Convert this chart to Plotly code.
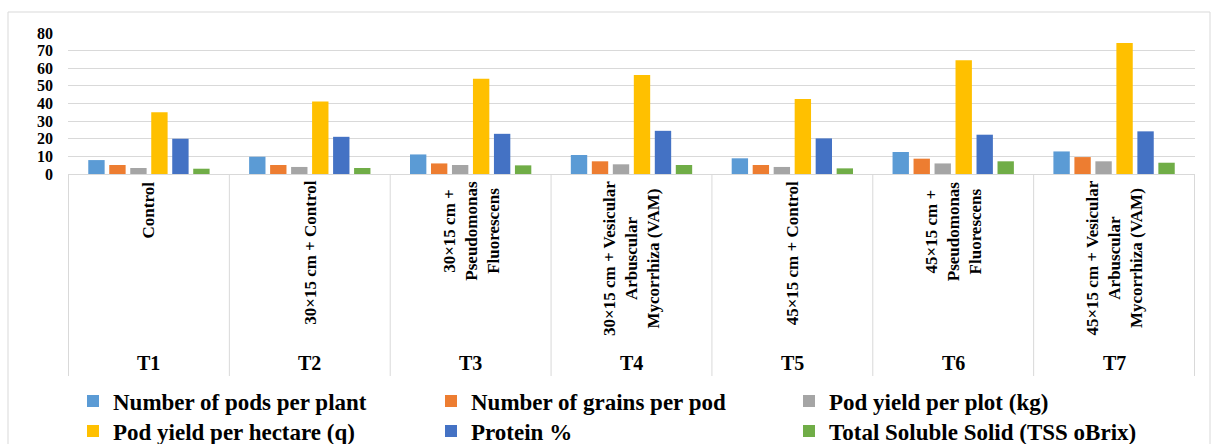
import plotly.graph_objects as go

# ---------------- data ----------------
categories = ["T1", "T2", "T3", "T4", "T5", "T6", "T7"]
treatments = [
    "Control",
    "30×15 cm + Control",
    "30×15 cm +<br>Pseudomonas<br>Fluorescens",
    "30×15 cm + Vesicular<br>Arbuscular<br>Mycorrhiza (VAM)",
    "45×15 cm + Control",
    "45×15 cm +<br>Pseudomonas<br>Fluorescens",
    "45×15 cm + Vesicular<br>Arbuscular<br>Mycorrhiza (VAM)",
]
series_names = [
    "Number of pods per plant",
    "Number of grains per pod",
    "Pod yield per plot (kg)",
    "Pod yield per hectare (q)",
    "Protein %",
    "Total Soluble Solid (TSS oBrix)",
]
pods_per_plant = [7.9, 9.8, 11.1, 10.8, 8.9, 12.5, 12.8]
grains_per_pod = [5.1, 5.1, 6.0, 7.2, 5.1, 8.7, 9.6]
pod_yield_plot = [3.4, 4.0, 5.1, 5.5, 4.0, 6.0, 7.2]
pod_yield_hectare = [35.1, 41.1, 54.0, 56.2, 42.5, 64.5, 74.3]
protein = [20.0, 21.1, 22.8, 24.5, 20.2, 22.3, 24.2]
tss = [3.0, 3.4, 4.9, 5.1, 3.2, 7.2, 6.4]
y_ticks = [0, 10, 20, 30, 40, 50, 60, 70, 80]

series_values = [pods_per_plant, grains_per_pod, pod_yield_plot,
                 pod_yield_hectare, protein, tss]
colors = ["#5B9BD5", "#ED7D31", "#A5A5A5", "#FFC000", "#4472C4", "#70AD47"]

# ---------------- layout geometry ----------------
W, H = 1212, 444
ML, MR, MT, MB = 68, 17, 33, 270
PW = W - ML - MR
PH = H - MT - MB

def py(pix):
    """pixel row -> paper y"""
    return (H - MB - pix) / PH

def px(pix):
    return (pix - ML) / PW

FONT = "Times New Roman, Liberation Serif, serif"

fig = go.Figure()
for i, (name, vals, col) in enumerate(zip(series_names, series_values, colors)):
    fig.add_trace(go.Bar(
        x=categories, y=vals, name=name, marker_color=col,
        marker_line_width=0,
        legend="legend" if i < 3 else "legend2",
    ))

shapes = []
# category dividers
for i in range(len(categories) + 1):
    shapes.append(dict(type="line", xref="x", yref="paper",
                       x0=i - 0.5, x1=i - 0.5, y0=0, y1=py(376),
                       line=dict(color="#D9D9D9", width=1)))
# outer chart border
shapes.append(dict(type="rect", xref="paper", yref="paper",
                   x0=px(8), x1=px(1210), y0=py(460), y1=py(12),
                   line=dict(color="#D9D9D9", width=1), fillcolor="rgba(0,0,0,0)"))

annotations = []
for cat, lab in zip(categories, treatments):
    annotations.append(dict(x=cat, xref="x", y=py(179), yref="paper",
                            text="<b>%s</b>" % lab, textangle=-90, showarrow=False,
                            xanchor="center", yanchor="top", align="center",
                            font=dict(family=FONT, size=17, color="black")))
    annotations.append(dict(x=cat, xref="x", y=py(363), yref="paper",
                            text="<b>%s</b>" % cat, showarrow=False,
                            xanchor="center", yanchor="middle",
                            font=dict(family=FONT, size=20, color="black")))

legend_common = dict(orientation="h", xanchor="left", yanchor="middle",
                     x=px(73), entrywidth=313, entrywidthmode="pixels",
                     bgcolor="rgba(0,0,0,0)",
                     font=dict(family=FONT, size=23, color="black", weight="bold"))

fig.update_layout(
    width=W, height=H,
    margin=dict(l=ML, r=MR, t=MT, b=MB, autoexpand=False),
    paper_bgcolor="white", plot_bgcolor="white",
    barmode="group", bargap=0.217, bargroupgap=0.22,
    showlegend=True,
    legend=dict(**legend_common, y=py(401)),
    legend2=dict(**legend_common, y=py(431)),
    xaxis=dict(type="category", showticklabels=False, ticks="",
               showgrid=False, showline=True, linecolor="#D9D9D9",
               linewidth=1, zeroline=False),
    yaxis=dict(range=[0, 80], tickvals=y_ticks, showgrid=True,
               gridcolor="#D9D9D9", gridwidth=1, zeroline=False,
               showline=False, ticks="", ticklabelstandoff=14,
               tickfont=dict(family=FONT, size=16, color="black", weight="bold")),
    shapes=shapes,
    annotations=annotations,
    font=dict(family=FONT),
)

fig.write_html("out.html")
